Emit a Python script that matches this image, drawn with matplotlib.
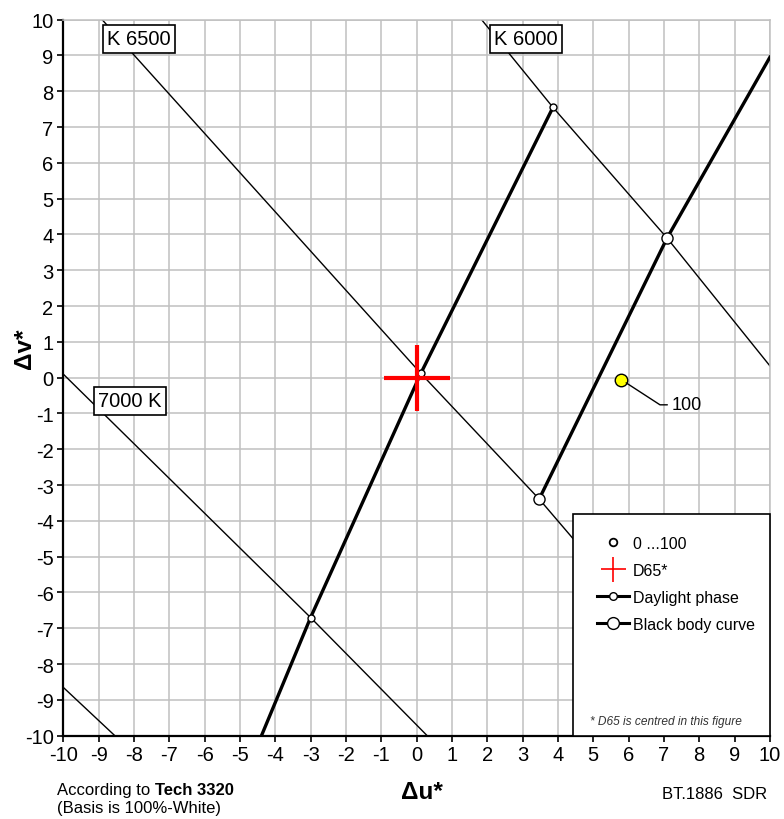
import matplotlib
matplotlib.use("Agg")
import matplotlib.pyplot as plt
from matplotlib.lines import Line2D
from matplotlib.patches import Rectangle

plt.rcParams["font.family"] = ["Liberation Sans", "DejaVu Sans"]
plt.rcParams["axes.unicode_minus"] = False

# --- isotherm lines (du*, dv*) ---
iso_6500_u = [-8.9, 0.12, 3.47, 9.2]
iso_6500_v = [10.0, 0.12, -3.39, -10.0]
iso_6000_u = [1.84, 3.86, 7.09, 10.0]
iso_6000_v = [10.0, 7.55, 3.90, 0.33]
iso_7000_u = [-10.0, -3.0, 0.3]
iso_7000_v = [0.1, -6.7, -10.0]
iso_low_u = [-10.0, -8.54]
iso_low_v = [-8.65, -10.0]

# --- daylight phase locus and its isotherm crossings ---
daylight_u = [-4.39, -3.0, 0.12, 3.86]
daylight_v = [-10.0, -6.7, 0.12, 7.55]
daylight_pts_u = [-3.0, 0.12, 3.86]
daylight_pts_v = [-6.7, 0.12, 7.55]

# --- black body curve ---
blackbody_u = [3.47, 7.09, 10.0]
blackbody_v = [-3.39, 3.90, 8.95]
blackbody_pts_u = [3.47, 7.09]
blackbody_pts_v = [-3.39, 3.90]

# --- measurement (100 % white) and reference white ---
meas_u = [5.80]
meas_v = [-0.06]
meas_label = "100"
d65_u = [0.0]
d65_v = [0.0]

ticks = list(range(-10, 11))

fig = plt.figure(figsize=(7.84, 8.2), dpi=100)
ax = fig.add_axes([0.0807, 0.1016, 0.9013, 0.8732])
ax.set_xlim(-10, 10)
ax.set_ylim(-10, 10)
ax.set_xticks(ticks)
ax.set_yticks(ticks)
ax.grid(True, color="#c0c0c0", linewidth=1.1, zorder=0)
ax.set_axisbelow(True)
ax.tick_params(direction="out", length=4, width=1.2, labelsize=14.5, pad=3)
for side in ("left", "bottom"):
    ax.spines[side].set_linewidth(1.6)
    ax.spines[side].set_color("black")
for side in ("top", "right"):
    ax.spines[side].set_linewidth(1.1)
    ax.spines[side].set_color("#c0c0c0")

# isotherms
for u, v in [(iso_6500_u, iso_6500_v), (iso_6000_u, iso_6000_v),
             (iso_7000_u, iso_7000_v), (iso_low_u, iso_low_v)]:
    ax.plot(u, v, color="black", linewidth=1.0, zorder=2)

# daylight phase and black body curve
ax.plot(daylight_u, daylight_v, color="black", linewidth=2.4, zorder=3)
ax.plot(daylight_pts_u, daylight_pts_v, "o", ms=5, mfc="white", mec="black", mew=1.0, zorder=4)
ax.plot(blackbody_u, blackbody_v, color="black", linewidth=2.4, zorder=3)
ax.plot(blackbody_pts_u, blackbody_pts_v, "o", ms=8, mfc="white", mec="black", mew=1.0, zorder=4)

# D65 reference cross
ax.plot(d65_u, d65_v, "+", color="red", ms=48, mew=3, zorder=5)

# measured white point
ax.plot(meas_u, meas_v, "o", ms=9, mfc="#ffff00", mec="black", mew=1.0, zorder=6)
ax.annotate(meas_label, xy=(meas_u[0], meas_v[0]), xytext=(36, -18),
            textcoords="offset points", fontsize=13, ha="left", va="center",
            arrowprops=dict(arrowstyle="-", color="black", lw=1.0, relpos=(0, 0.5),
                            shrinkA=1, shrinkB=4,
                            connectionstyle="angle,angleA=0,angleB=-33,rad=0"),
            zorder=6)

# temperature labels
box = dict(boxstyle="square,pad=0.22", facecolor="white", edgecolor="black", linewidth=1.2)
ax.text(-7.86, 9.47, "K 6500", fontsize=14.5, ha="center", va="center", bbox=box, zorder=7)
ax.text(3.09, 9.46, "K 6000", fontsize=14.5, ha="center", va="center", bbox=box, zorder=7)
ax.text(-8.11, -0.65, "7000 K", fontsize=14.5, ha="center", va="center", bbox=box, zorder=7)

# legend panel
ax.add_patch(Rectangle((0.721, 0.0), 0.279, 0.3096, transform=ax.transAxes,
                       facecolor="white", edgecolor="black", linewidth=1.2, zorder=8, clip_on=False))
handles = [
    Line2D([], [], linestyle="none", marker="o", ms=5.5, mfc="white", mec="black", mew=1.3),
    Line2D([], [], linestyle="none", marker="+", ms=18, color="red", mew=1.2),
    Line2D([], [], color="black", lw=2.2, marker="o", ms=5.5, mfc="white", mec="black"),
    Line2D([], [], color="black", lw=2.2, marker="o", ms=8.5, mfc="white", mec="black"),
]
labels = ["0 ...100", "D65*", "Daylight phase", "Black body curve"]
leg = ax.legend(handles, labels, loc="upper left", bbox_to_anchor=(0.755, 0.279),
                frameon=False, fontsize=11.5, handlelength=2.0, handletextpad=0.25,
                labelspacing=0.75, borderaxespad=0.0, borderpad=0.0)
leg.set_zorder(9)
ax.text(0.745, 0.012, "* D65 is centred in this figure", transform=ax.transAxes,
        fontsize=8.6, style="italic", color="#333333", ha="left", va="bottom", zorder=9)

# axis titles and notes
fig.text(25 / 784, 1 - 349 / 820, "\u0394v*", rotation=90, fontsize=17.5,
         fontweight="bold", ha="center", va="center")
fig.text(422 / 784, 1 - 793 / 820, "\u0394u*", fontsize=17.5, fontweight="bold",
         ha="center", va="center")
t1 = fig.text(57 / 784, 1 - 791 / 820, "According to ", fontsize=12, ha="left", va="center")
ax.annotate("Tech 3320", xy=(1, 0), xycoords=t1, fontsize=12, fontweight="bold",
            ha="left", va="bottom")
fig.text(57 / 784, 1 - 809 / 820, "(Basis is 100%-White)", fontsize=12, ha="left", va="center")
fig.text(767 / 784, 1 - 795 / 820, "BT.1886  SDR", fontsize=12, ha="right", va="center")

fig.savefig("out.png", dpi=100)
